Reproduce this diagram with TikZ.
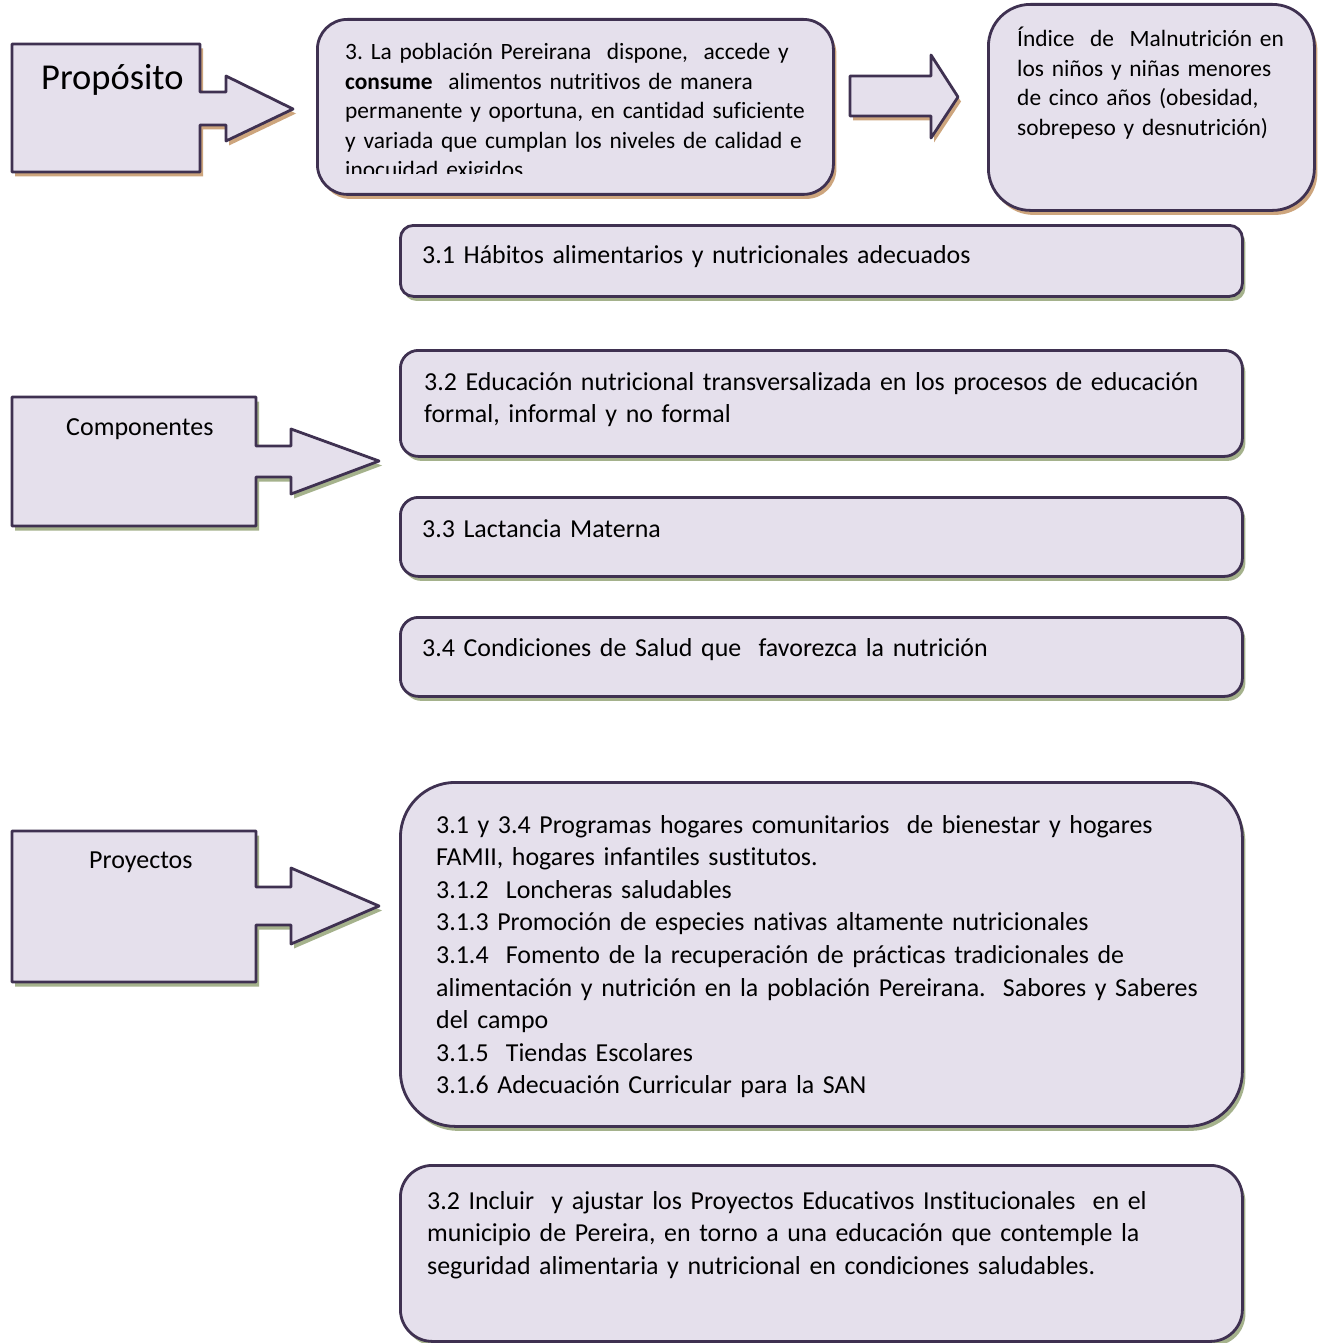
\documentclass[tikz,border=0pt]{standalone}
\usepackage{fontspec}
\setmainfont{Carlito}[Ligatures=NoCommon, WordSpace=0.72]
\frenchspacing
\usetikzlibrary{shadows}
\definecolor{lav}{HTML}{E5E0EC}
\definecolor{frame}{HTML}{3F3151}
\definecolor{shbrown}{HTML}{CDA57D}
\definecolor{shgreen}{HTML}{A5B28C}
\begin{document}
\begin{tikzpicture}[x=1pt,y=-1pt,
  panel/.style={draw=frame, fill=lav, line width=2.8pt, line join=round},
  brownsh/.style={drop shadow={fill=shbrown, opacity=1, shadow xshift=3pt, shadow yshift=-4.5pt}},
  greensh/.style={drop shadow={fill=shgreen, opacity=1, shadow xshift=3pt, shadow yshift=-4.5pt}},
  box/.style={panel, rectangle, inner sep=0pt, anchor=north west},
  txt/.style={inner sep=0pt, anchor=base west, align=left, text width=#1},
  txt/.default=900pt,
  small/.style={font=\fontsize{23.4}{29.4}\selectfont},
  body/.style={font=\fontsize{25.9}{32.6}\selectfont},
]
\fill[white] (0,0) rectangle (1317,1343);
\useasboundingbox (0,0) rectangle (1317,1343);

% block-arrow callouts on the left
\path[panel, brownsh] (12,44) -- (200,44) -- (200,92) -- (226,92) -- (226,76)
  -- (293,109) -- (226,141) -- (226,125) -- (200,125) -- (200,172) -- (12,172) -- cycle;
\path[panel, greensh] (12,397) -- (256,397) -- (256,446) -- (291,446) -- (291,429)
  -- (379,461) -- (291,494) -- (291,477) -- (256,477) -- (256,526) -- (12,526) -- cycle;
\path[panel, greensh] (12,831) -- (256,831) -- (256,887) -- (291,887) -- (291,868)
  -- (379,906) -- (291,944) -- (291,925) -- (256,925) -- (256,982) -- (12,982) -- cycle;
% block arrow between the purpose and the indicator
\path[panel, brownsh] (850,76) -- (931,76) -- (931,55) -- (958,97) -- (931,138)
  -- (931,116) -- (850,116) -- cycle;

\node[txt, font=\fontsize{36.5}{40}\selectfont] (lpur) at (41,90) {Propósito};
\node[txt, font=\fontsize{26}{30}\selectfont] (lcom) at (66,435) {Componentes};
\node[txt, font=\fontsize{26}{30}\selectfont] (lpro) at (89,868) {Proyectos};

% boxes
\node[box, brownsh, rounded corners=30pt, minimum width=516pt, minimum height=175pt] (mid) at (316,18) {};
\node[box, brownsh, rounded corners=42pt, minimum width=326pt, minimum height=206pt] (ind) at (987,3) {};
\node[box, greensh, rounded corners=13pt, minimum width=842pt, minimum height=71pt] (c31) at (399,224) {};
\node[box, greensh, rounded corners=18pt, minimum width=842pt, minimum height=106pt] (c32) at (399,349) {};
\node[box, greensh, rounded corners=18pt, minimum width=842pt, minimum height=79pt] (c33) at (399,496) {};
\node[box, greensh, rounded corners=18pt, minimum width=842pt, minimum height=79pt] (c34) at (399,616) {};
\node[box, greensh, rounded corners=55pt, minimum width=842pt, minimum height=344pt] (p1) at (399,781) {};
\node[box, greensh, rounded corners=32pt, minimum width=842pt, minimum height=176pt] (p2) at (399,1164) {};

% texts
\begin{scope}
\clip (316,18) rectangle (832,174);
\node[txt=480pt, small] (tmid) at (345,60) {3. La población Pereirana~ dispone,~ accede y\\
\textbf{consume}~ alimentos nutritivos de manera\\
permanente y oportuna, en cantidad suficiente\\
y variada que cumplan los niveles de calidad e\\
inocuidad exigidos.};
\end{scope}
\node[txt=290pt, small] (tind) at (1017,47) {Índice~ de~ Malnutrición en\\
los niños y niñas menores\\
de cinco años (obesidad,\\
sobrepeso y desnutrición)};
\node[txt, body] (t31) at (422,263) {3.1 Hábitos alimentarios y nutricionales adecuados};
\node[txt, body] (t32) at (424,390) {3.2 Educación nutricional transversalizada en los procesos de educación\\
formal, informal y no formal};
\node[txt, body] (t33) at (422,537) {3.3 Lactancia Materna};
\node[txt, body] (t34) at (422,656) {3.4 Condiciones de Salud que~ favorezca la nutrición};
\node[txt, body] (tp1) at (436,833) {3.1 y 3.4 Programas hogares comunitarios~ de bienestar y hogares\\
FAMII, hogares infantiles sustitutos.\\
3.1.2~ Loncheras saludables\\
3.1.3 Promoción de especies nativas altamente nutricionales\\
3.1.4~ Fomento de la recuperación de prácticas tradicionales de\\
alimentación y nutrición en la población Pereirana.~ Sabores y Saberes\\
del campo\\
3.1.5~ Tiendas Escolares\\
3.1.6 Adecuación Curricular para la SAN};
\node[txt, body] (tp2) at (427,1209) {3.2 Incluir~ y ajustar los Proyectos Educativos Institucionales~ en el\\
municipio de Pereira, en torno a una educación que contemple la\\
seguridad alimentaria y nutricional en condiciones saludables.};
\end{tikzpicture}
\end{document}
